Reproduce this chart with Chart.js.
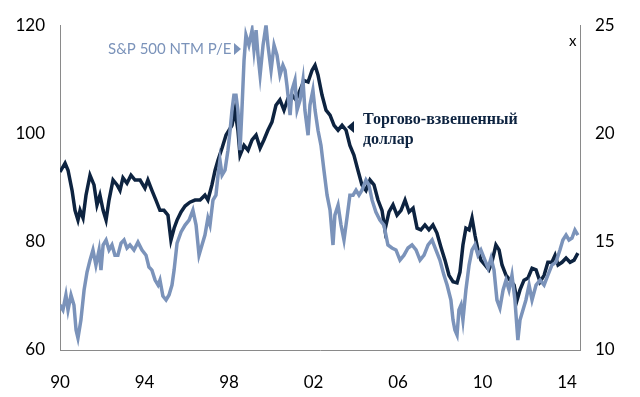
<!DOCTYPE html>
<html>
<head>
<meta charset="utf-8">
<script src="https://cdn.jsdelivr.net/npm/chart.js@4.4.1/dist/chart.umd.min.js"></script>
<style>
  html, body { margin: 0; padding: 0; background: #fff; }
  #wrap { width: 640px; height: 397px; }
</style>
</head>
<body>
<div id="wrap"><canvas id="peChart" width="640" height="397"></canvas></div>
<script>
// x axis ticks (years) and their labels
const tickYears = [1990, 1994, 1998, 2002, 2006, 2010, 2014];
const tickLabels = ['90', '94', '98', '02', '06', '10', '14'];

// trade-weighted dollar (left axis)
const dollarDates = [1990.00,1990.24,1990.38,1990.57,1990.71,1990.85,1990.95,1991.09,1991.23,1991.42,1991.61,1991.75,1991.89,1992.04,1992.18,1992.32,1992.51,1992.70,1992.84,1992.98,1993.17,1993.36,1993.55,1993.79,1994.02,1994.16,1994.35,1994.54,1994.73,1994.92,1995.11,1995.25,1995.40,1995.54,1995.73,1995.92,1996.15,1996.39,1996.63,1996.86,1997.00,1997.19,1997.34,1997.48,1997.67,1997.86,1998.00,1998.14,1998.28,1998.42,1998.52,1998.71,1998.90,1999.09,1999.28,1999.47,1999.65,1999.84,2000.03,2000.22,2000.41,2000.60,2000.79,2000.98,2001.17,2001.36,2001.55,2001.74,2001.93,2002.07,2002.21,2002.40,2002.59,2002.78,2002.97,2003.16,2003.35,2003.54,2003.72,2003.91,2004.10,2004.29,2004.48,2004.67,2004.86,2005.05,2005.24,2005.38,2005.57,2005.76,2005.95,2006.14,2006.33,2006.52,2006.71,2006.90,2007.08,2007.27,2007.46,2007.65,2007.84,2008.03,2008.22,2008.41,2008.60,2008.79,2008.93,2009.07,2009.21,2009.36,2009.50,2009.64,2009.78,2009.92,2010.11,2010.30,2010.44,2010.63,2010.78,2010.92,2011.11,2011.30,2011.49,2011.63,2011.77,2011.96,2012.15,2012.34,2012.53,2012.72,2012.91,2013.09,2013.28,2013.43,2013.57,2013.76,2013.95,2014.14,2014.33,2014.51];
const dollarValues = [92.9,94.5,93.2,89.5,85.8,84.0,85.8,84.4,88.6,92.3,90.5,86.8,88.6,85.8,84.0,87.7,91.4,90.5,89.5,91.8,90.8,92.3,91.4,91.4,89.9,91.4,89.5,87.7,85.8,85.8,84.9,80.3,82.5,84.0,85.5,86.6,87.3,87.7,87.7,88.6,87.7,90.5,93.2,95.1,97.3,99.7,100.6,101.5,104.3,100.6,96.0,97.8,96.9,98.8,99.7,97.3,98.8,100.6,102.1,105.2,106.2,104.3,106.5,107.1,106.2,108.0,109.8,109.5,111.7,112.6,110.8,107.1,104.3,103.4,101.5,100.6,101.5,100.6,97.8,96.0,93.2,90.5,89.5,91.4,90.5,87.7,85.8,82.2,85.5,86.8,84.9,85.8,87.7,85.5,86.2,82.5,82.2,83.1,82.2,83.1,81.6,79.0,76.6,73.8,72.6,72.4,74.4,79.4,82.5,82.2,84.4,81.2,78.5,76.6,75.7,74.8,76.2,79.4,78.5,75.7,73.8,72.9,72.0,69.2,71.1,72.9,73.3,75.1,74.8,72.6,73.8,76.2,76.2,77.5,75.7,76.2,77.0,76.2,76.6,77.9];

// S&P 500 NTM P/E (right axis)
const peDates = [1990.00,1990.14,1990.28,1990.38,1990.52,1990.66,1990.76,1990.85,1990.99,1991.14,1991.28,1991.42,1991.56,1991.70,1991.85,1991.94,1992.04,1992.18,1992.32,1992.46,1992.60,1992.74,1992.89,1993.03,1993.17,1993.31,1993.50,1993.69,1993.88,1994.07,1994.21,1994.35,1994.50,1994.64,1994.73,1994.87,1995.02,1995.16,1995.30,1995.40,1995.54,1995.73,1995.92,1996.11,1996.29,1996.44,1996.58,1996.72,1996.86,1997.00,1997.10,1997.24,1997.38,1997.48,1997.57,1997.67,1997.81,1997.95,1998.05,1998.14,1998.23,1998.33,1998.42,1998.52,1998.61,1998.71,1998.80,1998.94,1999.09,1999.18,1999.28,1999.37,1999.47,1999.61,1999.75,1999.84,1999.99,2000.13,2000.27,2000.41,2000.55,2000.65,2000.74,2000.89,2000.98,2001.12,2001.22,2001.36,2001.50,2001.59,2001.74,2001.83,2001.97,2002.07,2002.21,2002.35,2002.49,2002.64,2002.78,2002.92,2003.01,2003.16,2003.30,2003.44,2003.58,2003.72,2003.87,2004.01,2004.15,2004.29,2004.48,2004.62,2004.77,2004.95,2005.14,2005.33,2005.52,2005.71,2005.90,2006.09,2006.28,2006.47,2006.66,2006.85,2007.04,2007.23,2007.42,2007.61,2007.79,2007.98,2008.17,2008.32,2008.50,2008.60,2008.69,2008.79,2008.88,2008.98,2009.07,2009.21,2009.36,2009.50,2009.64,2009.78,2009.92,2010.11,2010.26,2010.40,2010.54,2010.68,2010.82,2010.97,2011.11,2011.25,2011.39,2011.53,2011.67,2011.77,2011.91,2012.05,2012.20,2012.34,2012.53,2012.72,2012.91,2013.09,2013.28,2013.47,2013.66,2013.80,2013.95,2014.09,2014.23,2014.37,2014.51];
const peValues = [12.08,11.85,12.54,11.85,12.54,12.08,10.92,10.55,11.38,12.77,13.60,14.15,14.62,13.92,14.62,13.69,14.85,15.08,14.62,14.85,14.38,14.38,14.94,15.08,14.71,14.85,14.62,14.98,14.62,14.38,13.83,13.69,13.23,13.00,13.23,12.49,12.31,12.54,13.00,13.69,14.94,15.45,15.77,16.00,16.46,15.77,14.38,14.85,15.31,16.09,15.77,16.92,17.15,18.08,18.77,18.08,18.31,19.23,20.15,21.08,21.77,21.77,21.08,19.23,21.08,23.38,24.54,24.08,24.77,23.85,24.77,23.62,22.69,24.08,25.00,24.08,22.92,24.08,23.62,22.69,23.15,22.92,22.23,20.85,22.00,22.46,21.08,21.54,22.46,21.08,19.92,21.31,22.00,21.08,20.15,19.46,18.31,17.15,16.46,14.85,16.23,16.69,15.77,15.08,16.09,17.15,17.15,17.38,17.15,17.38,17.85,17.62,16.92,16.37,16.00,15.77,14.85,14.71,14.62,14.15,14.38,14.71,14.85,14.62,14.15,14.38,14.85,15.08,14.62,14.15,13.46,13.00,12.31,11.38,10.92,10.69,11.85,12.08,11.38,12.77,13.92,14.62,14.85,14.38,14.62,14.15,13.78,14.25,13.69,12.31,11.94,12.77,13.23,12.77,13.46,12.31,10.46,11.38,11.85,12.31,13.00,12.31,13.00,13.23,13.00,13.46,13.92,14.06,14.62,15.08,15.31,15.08,15.17,15.54,15.31];

const darkBlue = '#0d2340';
const lightBlue = '#7b93ba';
const axisGray = '#8a8a8a';
const tickFont = {family: 'Lato', size: 17};

const toPoints = (xs, ys) => xs.map((x, i) => ({x: x, y: ys[i]}));

// labels on the chart
const labelsPlugin = {
    id: 'labelsPlugin',
    afterDraw(chart) {
        const ctx = chart.ctx;
        ctx.save();

        // unit mark near right axis
        ctx.fillStyle = '#000';
        ctx.font = '15px Lato';
        ctx.textAlign = 'left';
        ctx.textBaseline = 'middle';
        ctx.fillText('x', 569, 41);

        // P/E label + arrow
        ctx.fillStyle = lightBlue;
        ctx.font = '15px Lato';
        ctx.fillText('S&P 500 NTM P/E', 108, 49);
        ctx.beginPath();
        ctx.moveTo(234, 43);
        ctx.lineTo(241, 49);
        ctx.lineTo(234, 55);
        ctx.closePath();
        ctx.fill();

        // dollar label + arrow
        ctx.fillStyle = darkBlue;
        ctx.font = 'bold 16px "Liberation Serif"';
        ctx.fillText('Торгово-взвешенный', 363, 120);
        ctx.fillText('доллар', 363, 140);
        ctx.beginPath();
        ctx.moveTo(354, 121);
        ctx.lineTo(347, 127);
        ctx.lineTo(354, 133);
        ctx.closePath();
        ctx.fill();

        ctx.restore();
    }
};

const ctxChart = document.getElementById('peChart').getContext('2d');

new Chart(ctxChart, {
    type: 'line',
    data: {
        datasets: [
            {
                label: 'S&P 500 NTM P/E',
                data: toPoints(peDates, peValues),
                yAxisID: 'yRight',
                borderColor: lightBlue,
                borderWidth: 3.5,
                pointRadius: 0,
                tension: 0
            },
            {
                label: 'Торгово-взвешенный доллар',
                data: toPoints(dollarDates, dollarValues),
                yAxisID: 'yLeft',
                borderColor: darkBlue,
                borderWidth: 3.5,
                pointRadius: 0,
                tension: 0
            }
        ]
    },
    options: {
        responsive: false,
        animation: false,
        layout: {padding: {top: 25, left: 0, right: 0, bottom: 0}},
        plugins: {
            legend: {display: false},
            tooltip: {enabled: false}
        },
        scales: {
            x: {
                type: 'linear',
                min: 1990,
                max: 2014.61,
                grid: {display: false, drawTicks: false},
                border: {display: true, color: axisGray, width: 1},
                afterBuildTicks: (s) => { s.ticks = tickYears.map(v => ({value: v})); },
                afterFit: (s) => { s.height = 47; },
                ticks: {
                    color: '#000',
                    font: tickFont,
                    padding: 22,
                    maxRotation: 0,
                    autoSkip: false,
                    callback: (v) => tickLabels[tickYears.indexOf(v)]
                }
            },
            yLeft: {
                position: 'left',
                min: 60,
                max: 120,
                grid: {display: false, drawTicks: false},
                border: {display: true, color: axisGray, width: 1},
                afterFit: (s) => { s.width = 60; },
                ticks: {stepSize: 20, color: '#000', font: tickFont, padding: 15}
            },
            yRight: {
                position: 'right',
                min: 10,
                max: 25,
                grid: {display: false, drawTicks: false},
                border: {display: true, color: axisGray, width: 1},
                afterFit: (s) => { s.width = 60; },
                ticks: {stepSize: 5, color: '#000', font: tickFont, padding: 15}
            }
        }
    },
    plugins: [labelsPlugin]
});
</script>
</body>
</html>
